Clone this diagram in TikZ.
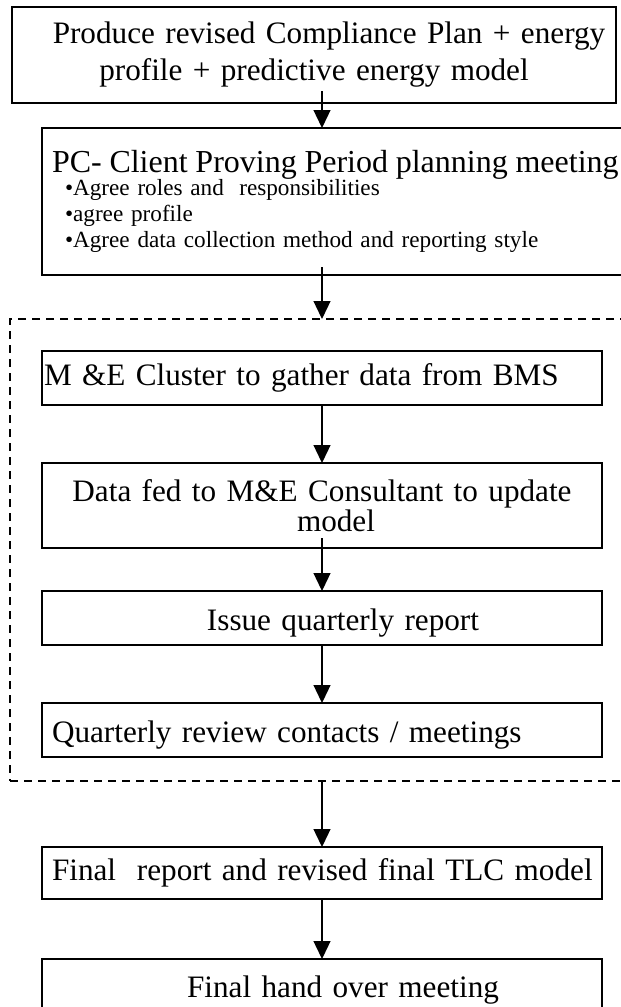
\documentclass[tikz,border=0pt]{standalone}
\usepackage{fontspec}
\setmainfont{Liberation Serif}
\usetikzlibrary{arrows.meta,positioning,fit}

\begin{document}
\begin{tikzpicture}[
 node distance=29pt,
 box/.style={draw,line width=0.7pt,outer sep=0pt,text width=270pt,inner xsep=5pt,inner ysep=0pt,minimum height=27pt,font=\fontsize{15.6}{18.5}\selectfont},
 topbox/.style={box,line width=0.9pt},
 flow/.style={-{Triangle[length=9pt,width=8.5pt]},line width=0.65pt},
 loopbox/.style={draw,dash pattern=on 4pt off 3pt,line width=0.6pt,outer sep=0pt,inner xsep=16pt,inner ysep=12pt},
]
\useasboundingbox (0,0) rectangle (310.5pt,-503.5pt);
\node[topbox,anchor=north west,text width=292pt,align=center,minimum height=48pt] (a) at (6pt,-3.5pt) {\hspace*{15pt}Produce revised Compliance Plan + energy\\ profile + predictive energy model};
\node[topbox,below right=12.5pt and 15pt of a.south west,text width=299pt,align=left,minimum height=73.5pt,font=\fontsize{11.6}{13}\selectfont] (b) {{\fontsize{16}{18.5}\selectfont PC- Client Proving Period planning meeting}\\[-1.5pt]
 \hspace*{6.5pt}\textbullet Agree roles and\ \ responsibilities\\
 \hspace*{6.5pt}\textbullet agree profile\\
 \hspace*{6.5pt}\textbullet Agree data collection method and reporting style};
\node[box,below right=38pt and 0pt of b.south west,inner xsep=1pt,text width=278pt,align=left] (c) {M \&E Cluster to gather data from BMS};
\node[box,below=of c,align=center,minimum height=42.5pt,font={\fontsize{15.6}{15}\selectfont\lineskiplimit=-20pt}] (d) {Data fed to M\&E Consultant to update\\ \hspace*{14pt}model};
\node[box,below=21.5pt of d,align=center,text height=16pt,text depth=3.5pt] (e) {\hspace*{21pt}Issue quarterly report};
\node[box,below=of e,align=left,text height=16pt,text depth=3.5pt] (f) {Quarterly review contacts / meetings};
\coordinate (gtop) at ([yshift=4pt]c.north west);
\node[loopbox,fit=(gtop)(f.south east)] (g) {};
\node[box,below=45pt of f,align=left,minimum height=26pt,text width=272pt,inner xsep=4pt] (h) {\hspace*{1pt}Final\ \ report and revised final TLC model};
\node[box,below=30pt of h,align=center,minimum height=31.5pt] (i) {\hspace*{21pt}Final hand over meeting};

\draw[flow] ([yshift=6pt]a.south -| c.north) -- (b.north -| c.north);
\draw[flow] ([yshift=4pt]b.south -| c.north) -- (g.north -| c.north);
\draw[flow] (c) -- (d);
\draw[flow] ([yshift=5pt]d.south) -- (e);
\draw[flow] (e) -- (f);
\draw[flow] (g.south -| f.south) -- (h);
\draw[flow] (h) -- (i);
\end{tikzpicture}
\end{document}
